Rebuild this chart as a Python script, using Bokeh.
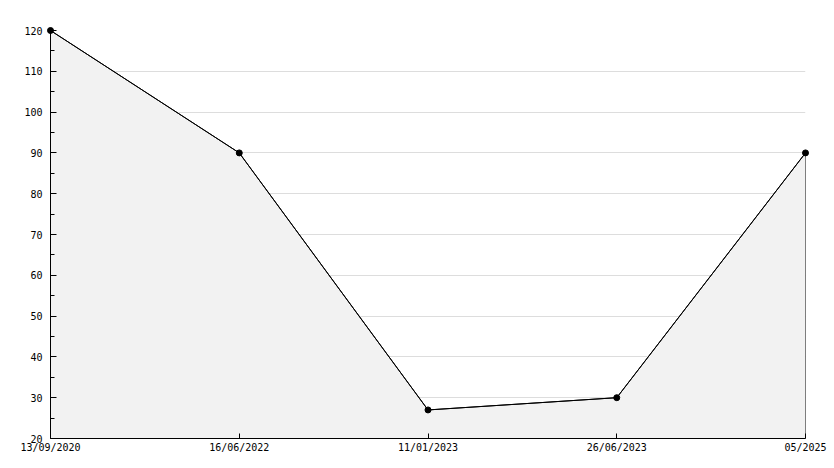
from bokeh.plotting import figure
from bokeh.models import FixedTicker, Range1d
from bokeh.embed import file_html
from bokeh.resources import INLINE

dates = ["13/09/2020", "16/06/2022", "11/01/2023", "26/06/2023", "05/2025"]
values = [120, 90, 27, 30, 90]
y_ticks = [20, 30, 40, 50, 60, 70, 80, 90, 100, 110, 120]

xs = list(range(len(dates)))
baseline = 20

p = figure(width=834, height=468, output_backend="svg", toolbar_location=None,
           x_range=Range1d(0, len(dates) - 1), y_range=Range1d(20, 120),
           min_border_left=50, min_border_right=29, min_border_top=30, min_border_bottom=30)
p.outline_line_color = None
p.background_fill_color = "white"
p.border_fill_color = "white"

# area
px = [xs[0]] + xs + [xs[-1]]
py = [baseline] + values + [baseline]
p.patch(px, py, fill_color="#f2f2f2", line_color="black", line_width=1)
p.line(xs, values, line_color="black", line_width=1)
p.scatter(xs, values, marker="circle", size=6, fill_color="black", line_color="black",
          level="overlay")

font = "DejaVu Sans Mono"
# x axis
p.xaxis.ticker = FixedTicker(ticks=xs)
p.xaxis.major_label_overrides = {i: d for i, d in enumerate(dates)}
p.xaxis.major_tick_in = 5
p.xaxis.major_tick_out = 0
p.xaxis.minor_tick_line_color = None
p.xaxis.major_label_standoff = 3
p.xaxis.axis_line_color = "black"
p.xaxis.major_label_text_font = font
p.xaxis.major_label_text_font_size = "10px"
p.xaxis.major_label_text_color = "black"

# y axis
p.yaxis.ticker = FixedTicker(ticks=y_ticks, minor_ticks=[v + 5 for v in y_ticks[:-1]])
p.yaxis.major_tick_in = 6
p.yaxis.major_tick_out = 0
p.yaxis.minor_tick_in = 4
p.yaxis.minor_tick_out = 0
p.yaxis.minor_tick_line_color = "black"
p.yaxis.major_label_standoff = 8
p.yaxis.axis_line_color = "black"
p.yaxis.major_label_text_font = font
p.yaxis.major_label_text_font_size = "10px"
p.yaxis.major_label_text_color = "black"

p.xgrid.grid_line_color = None
p.ygrid.grid_line_color = "#dddddd"
p.ygrid.ticker = FixedTicker(ticks=y_ticks[1:])

open("out.html", "w").write(file_html(p, INLINE))
